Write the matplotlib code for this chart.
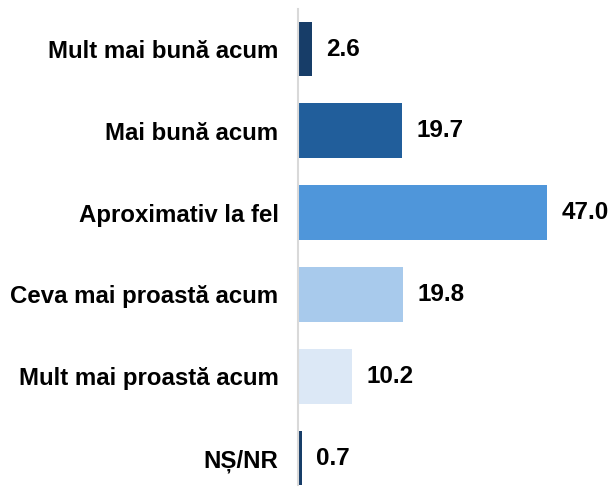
import numpy as np
import matplotlib
matplotlib.use("Agg")
import matplotlib.pyplot as plt

plt.rcParams["font.family"] = ["Liberation Sans", "DejaVu Sans"]

categories = ["Mult mai bună acum", "Mai bună acum", "Aproximativ la fel",
              "Ceva mai proastă acum", "Mult mai proastă acum", "NȘ/NR"]
values = [2.6, 19.7, 47.0, 19.8, 10.2, 0.7]
colors = ["#173D68", "#215E9B", "#4F96DA", "#A8CAEC", "#DCE8F6", "#173D68"]

fig = plt.figure(figsize=(6.14, 4.91), dpi=100)
ax = fig.add_axes([298 / 614, 6 / 491, 316 / 614, 476 / 491])

y = np.arange(len(categories))
ax.barh(y, values, height=0.67, color=colors)

for yi, v in zip(y, values):
    ax.annotate(f"{v:.1f}", (v, yi), xytext=(10.5, 0), textcoords="offset points",
                ha="left", va="center", fontsize=17.5, fontweight="bold")

ax.set_xlim(0, 316 / 5.3)
ax.set_ylim(5.33, -0.49)
ax.set_yticks(y)
ax.set_yticklabels(categories, fontsize=17.3, fontweight="bold")
ax.tick_params(axis="y", length=0, pad=14)
ax.set_xticks([])

for s in ["top", "right", "bottom"]:
    ax.spines[s].set_visible(False)
ax.spines["left"].set_color("#D9D9D9")
ax.spines["left"].set_linewidth(1.5)

fig.savefig("out.png", dpi=100)
